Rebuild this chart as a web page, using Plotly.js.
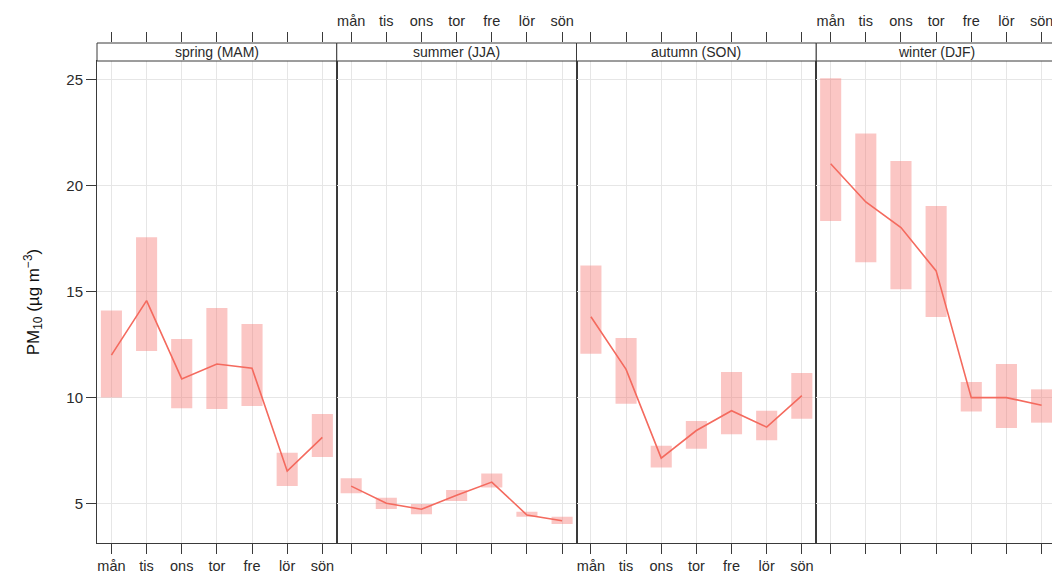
<!DOCTYPE html>
<html>
<head>
<meta charset="utf-8">
<script src="https://cdn.plot.ly/plotly-3.0.1.min.js"></script>
<style>
html, body { margin: 0; padding: 0; overflow: hidden; background: #fff; }
#chart { width: 1056px; height: 575px; }
</style>
</head>
<body>
<div id="chart"></div>
<script>
const days = ['mån', 'tis', 'ons', 'tor', 'fre', 'lör', 'sön'];
const seasons = ['spring (MAM)', 'summer (JJA)', 'autumn (SON)', 'winter (DJF)'];

const springMean = [12.0, 14.57, 10.88, 11.58, 11.38, 6.54, 8.13];
const springLow  = [10.0, 12.2, 9.5, 9.46, 9.6, 5.83, 7.2];
const springHigh = [14.1, 17.55, 12.76, 14.22, 13.47, 7.4, 9.23];

const summerMean = [5.83, 5.02, 4.74, 5.4, 6.02, 4.47, 4.2];
const summerLow  = [5.49, 4.75, 4.5, 5.13, 5.77, 4.39, 4.04];
const summerHigh = [6.2, 5.28, 4.99, 5.65, 6.43, 4.62, 4.39];

const autumnMean = [13.81, 11.33, 7.15, 8.45, 9.38, 8.61, 10.09];
const autumnLow  = [12.07, 9.71, 6.71, 7.59, 8.27, 7.99, 9.01];
const autumnHigh = [16.22, 12.81, 7.73, 8.9, 11.21, 9.38, 11.16];

const winterMean = [21.02, 19.22, 18.01, 15.97, 10.0, 10.0, 9.64];
const winterLow  = [18.32, 16.38, 15.1, 13.8, 9.34, 8.57, 8.82];
const winterHigh = [25.05, 22.44, 21.15, 19.03, 10.74, 11.58, 10.39];

const yTicks = [5, 10, 15, 20, 25];

const panels = [
  {mean: springMean, low: springLow, high: springHigh},
  {mean: summerMean, low: summerLow, high: summerHigh},
  {mean: autumnMean, low: autumnLow, high: autumnHigh},
  {mean: winterMean, low: winterLow, high: winterHigh}
];

const lineCol = '#f46a5e';
const boxCol = 'rgba(246,120,114,0.42)';
const frameCol = '#3a3a3a';
const gridCol = '#e6e6e6';
const font = 'Liberation Sans, Arial, sans-serif';
const txtCol = '#2a2a2a';
const xr = [-0.41, 6.41];
const yTop = 0.964;

const data = [];
const layout = {
  width: 1056, height: 575,
  margin: {l: 97, r: 0, t: 43, b: 32},
  paper_bgcolor: '#fff', plot_bgcolor: 'rgba(0,0,0,0)',
  showlegend: false,
  font: {family: font, size: 14.5, color: txtCol},
  shapes: [], annotations: [],
  yaxis: {
    domain: [0, yTop], range: [3.15, 25.86],
    tickmode: 'array', tickvals: yTicks,
    ticks: 'outside', ticklen: 10, tickcolor: frameCol, tickwidth: 1,
    showline: true, linecolor: frameCol, linewidth: 1, mirror: 'all',
    showgrid: true, gridcolor: gridCol, gridwidth: 1, zeroline: false,
    tickfont: {size: 15, color: txtCol},
    title: {text: 'PM<sub>10</sub> (µg m<sup>−3</sup>)', font: {size: 17, color: '#111'}, standoff: 22}
  },
  yaxis2: {domain: [0, 1], range: [0, 1], visible: false, anchor: 'x5'}
};

panels.forEach((p, i) => {
  const xa = i === 0 ? 'x' : 'x' + (i + 1);
  const xaName = i === 0 ? 'xaxis' : 'xaxis' + (i + 1);
  const dom = [i / 4, (i + 1) / 4];
  data.push({
    type: 'bar', x: days,
    y: p.high.map((h, k) => h - p.low[k]), base: p.low,
    width: 0.6, marker: {color: boxCol, line: {width: 0}},
    xaxis: xa, yaxis: 'y', hoverinfo: 'skip'
  });
  data.push({
    type: 'scatter', mode: 'lines', x: days, y: p.mean,
    line: {color: lineCol, width: 1.6},
    xaxis: xa, yaxis: 'y', hoverinfo: 'skip'
  });
  // empty trace so the top (strip) axis subplot is created
  data.push({
    type: 'scatter', mode: 'markers', x: [], y: [],
    xaxis: 'x' + (i + 5), yaxis: 'y2', hoverinfo: 'skip'
  });
  layout[xaName] = {
    type: 'category', domain: dom, range: xr, anchor: 'y',
    categoryorder: 'array', categoryarray: days,
    ticks: 'outside', ticklen: 10, tickcolor: frameCol, tickwidth: 1,
    showline: true, linecolor: frameCol, linewidth: 1, mirror: true,
    showgrid: true, gridcolor: gridCol, gridwidth: 1, zeroline: false,
    showticklabels: (i === 0 || i === 2),
    tickfont: {size: 14.5, color: txtCol}
  };
  layout['xaxis' + (i + 5)] = {
    type: 'linear', domain: dom, range: xr, anchor: 'y2', side: 'top',
    tickmode: 'array', tickvals: days.map((d, k) => k), ticktext: days,
    ticks: 'outside', ticklen: 10, tickcolor: frameCol, tickwidth: 1,
    showline: false, showgrid: false, zeroline: false,
    showticklabels: (i === 1 || i === 3),
    tickfont: {size: 14.5, color: txtCol}
  };
  const dref = (i === 0 ? 'x' : 'x' + (i + 1)) + ' domain';
  layout.shapes.push({
    type: 'rect', xref: dref, yref: 'paper', x0: 0, x1: 1, y0: yTop, y1: 1,
    fillcolor: '#fff', line: {color: frameCol, width: 1}, layer: 'above'
  });
  layout.annotations.push({
    text: seasons[i], xref: dref, yref: 'paper', x: 0.5, y: (yTop + 1) / 2,
    xanchor: 'center', yanchor: 'middle', showarrow: false,
    font: {size: 14, color: txtCol}
  });
});

Plotly.newPlot('chart', data, layout, {displayModeBar: false, staticPlot: true});
</script>
</body>
</html>
